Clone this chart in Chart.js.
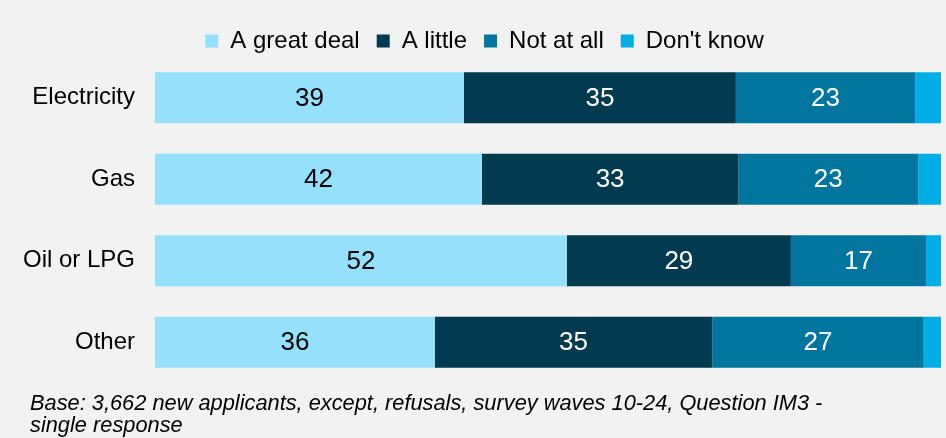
<!DOCTYPE html>
<html>
<head>
<meta charset="utf-8">
<script src="https://cdn.jsdelivr.net/npm/chart.js@4"></script>
<style>
  html, body { margin: 0; padding: 0; background: #f2f2f2; }
  #wrap { position: relative; width: 946px; height: 438px; }
  #note {
    position: absolute; left: 30px; top: 392px; width: 900px;
    font-family: "Liberation Sans", Arial, sans-serif; font-style: italic;
    font-size: 21.8px; line-height: 22px; color: #000; white-space: nowrap;
  }
</style>
</head>
<body>
<div id="wrap">
  <canvas id="chart" width="946" height="438"></canvas>
  <div id="note">Base: 3,662 new applicants, except, refusals, survey waves 10-24, Question IM3 -<br>single response</div>
</div>
<script>
const categories = ["Electricity", "Gas", "Oil or LPG", "Other"];
const greatDeal = [39.3, 41.6, 52.4, 35.6];
const aLittle = [34.6, 32.6, 28.5, 35.3];
const notAtAll = [22.8, 22.9, 17.2, 26.9];
const dontKnow = [3.3, 2.9, 1.9, 2.2];

const labelColors = ["#000000", "#ffffff", "#ffffff", null];
const fontFamily = "'Liberation Sans', Arial, sans-serif";

// value labels in the middle of each segment (no label on Don't know)
const barLabels = {
    id: "barLabels",
    afterDatasetsDraw(chart) {
        const ctx = chart.ctx;
        ctx.save();
        ctx.font = "26px " + fontFamily;
        ctx.textAlign = "center";
        ctx.textBaseline = "middle";
        chart.data.datasets.forEach((ds, i) => {
            if (!labelColors[i]) return;
            const meta = chart.getDatasetMeta(i);
            meta.data.forEach((bar, j) => {
                ctx.fillStyle = labelColors[i];
                ctx.fillText(Math.round(ds.data[j]), (bar.x + bar.base) / 2, bar.y + 1);
            });
        });
        ctx.restore();
    },
};

// legend sits closer to the bars and a little right of centre
const tightLegend = {
    id: "tightLegend",
    beforeInit(chart) {
        const legend = chart.legend;
        const fit = legend.fit;
        const draw = legend.draw;
        legend.fit = function () {
            fit.call(this);
            this.height -= 6;
        };
        legend.draw = function () {
            this.ctx.save();
            this.ctx.translate(14, 0);
            draw.call(this);
            this.ctx.restore();
        };
    },
};

new Chart(document.getElementById("chart"), {
    type: "bar",
    data: {
        labels: categories,
        datasets: [
            { label: "A great deal", data: greatDeal, backgroundColor: "#95e0fb" },
            { label: "A little", data: aLittle, backgroundColor: "#023a4f" },
            { label: "Not at all", data: notAtAll, backgroundColor: "#00759f" },
            { label: "Don't know", data: dontKnow, backgroundColor: "#00aee6" },
        ],
    },
    options: {
        indexAxis: "y",
        responsive: false,
        animation: false,
        categoryPercentage: 0.627,
        barPercentage: 1,
        layout: { padding: { top: 12, right: 5, bottom: 55, left: 0 } },
        scales: {
            x: { stacked: true, min: 0, max: 100, display: false },
            y: {
                stacked: true,
                border: { display: false },
                grid: { display: false, drawTicks: false },
                ticks: {
                    color: "#000",
                    padding: 20,
                    font: { family: fontFamily, size: 24 },
                },
                afterFit(scale) { scale.width = 155; },
            },
        },
        plugins: {
            tooltip: { enabled: false },
            legend: {
                position: "top",
                labels: {
                    color: "#000",
                    boxWidth: 13,
                    boxHeight: 13,
                    padding: 17,
                    font: { family: fontFamily, size: 24 },
                },
            },
        },
    },
    plugins: [barLabels, tightLegend],
});
</script>
</body>
</html>
